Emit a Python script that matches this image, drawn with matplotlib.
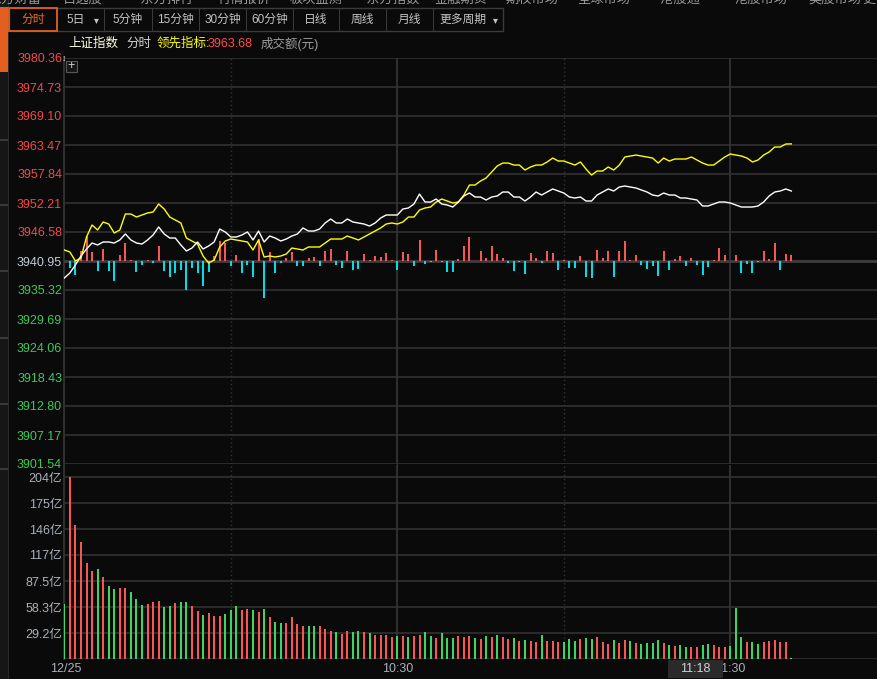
"""上证指数 intraday (分时) chart, dark trading-terminal style."""
import matplotlib
matplotlib.use("Agg")
import matplotlib.pyplot as plt
from matplotlib.patches import Rectangle

plt.rcParams["font.family"] = ["Liberation Sans", "Noto Sans CJK SC", "DejaVu Sans"]

# ---------------- data ----------------
prev_close = 3940.95
price_ticks = [3980.36, 3974.73, 3969.10, 3963.47, 3957.84, 3952.21, 3946.58, 3940.95,
               3935.32, 3929.69, 3924.06, 3918.43, 3912.80, 3907.17, 3901.54]
vol_ticks = [29.2, 58.3, 87.5, 117, 146, 175, 204]
vol_tick_labels = ["29.2亿", "58.3亿", "87.5亿", "117亿", "146亿", "175亿", "204亿"]
time_ticks = [0, 60, 120]
time_labels = ["12/25", "10:30", "11:30"]
cursor_label = "11:18"
lead_now = "3963.68"

# 上证指数 (white line), one point per minute from 9:30
index_price = [
    3937.65, 3938.62, 3940.17, 3941.92, 3943.28, 3944.44, 3944.06, 3944.64, 3944.64, 3944.44,
    3945.03, 3946.19, 3945.03, 3944.44, 3944.25, 3945.03, 3946.00, 3947.55, 3946.19, 3945.41,
    3945.41, 3944.06, 3942.89, 3943.47, 3944.64, 3943.28, 3943.86, 3944.64, 3947.16, 3946.58,
    3945.61, 3945.61, 3946.00, 3946.58, 3945.03, 3946.77, 3944.64, 3945.80, 3945.41, 3944.83,
    3945.22, 3945.80, 3946.19, 3947.36, 3946.77, 3946.77, 3947.16, 3948.33, 3949.10, 3948.33,
    3948.33, 3949.10, 3948.52, 3948.33, 3948.13, 3947.74, 3948.33, 3949.30, 3949.88, 3949.88,
    3949.88, 3951.04, 3951.24, 3952.01, 3953.95, 3952.40, 3952.40, 3952.98, 3952.01, 3951.82,
    3951.43, 3952.40, 3953.57, 3954.15, 3953.37, 3953.37, 3952.79, 3953.37, 3953.57, 3954.34,
    3954.34, 3953.37, 3953.37, 3952.60, 3953.37, 3954.34, 3953.76, 3954.34, 3954.93, 3954.54,
    3954.15, 3953.37, 3953.18, 3953.37, 3952.60, 3952.60, 3953.76, 3954.34, 3954.93, 3954.54,
    3955.31, 3955.51, 3955.31, 3955.12, 3954.73, 3954.34, 3953.76, 3953.57, 3954.15, 3953.76,
    3953.76, 3953.18, 3953.18, 3952.98, 3952.79, 3951.63, 3951.63, 3952.01, 3952.40, 3952.40,
    3952.21, 3951.82, 3951.43, 3951.43, 3951.43, 3951.63, 3952.40, 3953.57, 3954.34, 3954.54,
    3954.93, 3954.54]

# 领先指标 (yellow line)
lead_index = [
    3943.09, 3942.70, 3940.95, 3941.53, 3945.61, 3947.94, 3946.97, 3948.52, 3948.13, 3946.39,
    3946.97, 3950.07, 3950.07, 3949.49, 3949.88, 3950.27, 3950.46, 3952.01, 3951.04, 3949.49,
    3948.91, 3948.33, 3945.41, 3944.83, 3944.25, 3941.92, 3940.56, 3941.14, 3943.67, 3944.83,
    3945.22, 3945.03, 3944.83, 3944.64, 3943.09, 3945.03, 3941.73, 3941.92, 3941.73, 3941.92,
    3942.31, 3943.47, 3943.28, 3943.09, 3943.67, 3943.67, 3943.67, 3944.44, 3945.22, 3945.22,
    3945.22, 3945.80, 3945.41, 3945.03, 3945.61, 3946.19, 3946.77, 3947.36, 3948.13, 3948.33,
    3948.13, 3948.52, 3949.49, 3949.49, 3950.85, 3951.24, 3951.43, 3952.40, 3952.98, 3952.60,
    3952.21, 3952.40, 3953.76, 3955.70, 3955.70, 3956.48, 3957.06, 3958.22, 3959.39, 3959.97,
    3959.97, 3959.58, 3959.58, 3958.61, 3959.20, 3959.58, 3959.58, 3960.17, 3960.94, 3960.36,
    3960.36, 3959.97, 3959.58, 3960.17, 3958.81, 3957.64, 3958.42, 3958.42, 3959.20, 3958.61,
    3959.58, 3961.14, 3961.33, 3961.52, 3961.33, 3961.14, 3960.94, 3959.97, 3960.94, 3960.36,
    3960.75, 3960.75, 3960.75, 3961.14, 3960.56, 3959.97, 3959.58, 3959.58, 3960.36, 3961.14,
    3961.72, 3961.52, 3961.33, 3960.94, 3960.17, 3960.56, 3961.52, 3962.11, 3963.08, 3963.08,
    3963.66, 3963.68]

# buy/sell strength bars around the previous close (red up / cyan down)
strength = [
    0, -6.7, -14, 10.3, 25, 8.7, -9.7, 12, -9.7, -19.7,
    6, 18.3, 1, -10.7, -4, 1, -1.7, 15, -9.7, -15.7,
    -12.3, -9, -29, -7.3, -12.3, -25, -10.7, 5, 20, 17.7,
    -5, 6, -11.7, -4, -16.3, 22, -36.7, 9.3, -11.7, -2,
    3.5, 9.3, -5, -5, 3.3, 4.3, -5, 10.3, 12.3, -4,
    -6.7, 10.3, -9, -8, 7, 0.7, 5.3, 4.3, 8.3, 0.7,
    -9, 9, 7.3, -5, 21, -3, -1, 11, -1, -10.7,
    -10.7, 1.7, 15, 24, 0, 10, 3.3, 15, 7, 3.3,
    -2.3, -9.7, -1, -13, 8.3, 3.3, -2, 10.3, 8.3, -9,
    1, -6.7, -6.7, 5.3, -15.7, -17.3, 11, 3.3, 10.3, -15.7,
    10, 20, 1, 6, -4, -8, -4.7, -15, 10, -9,
    2, 5, -5, 3.3, -4, -14, -5.7, 0.7, 13.3, 6,
    0, 6, -11.7, -3, -11.7, -1, 10, 2, 17.7, -9,
    7, 6]

# 成交额 per minute, 亿元
turnover = [
    62.0, 204, 150.6, 131.9, 108.3, 99.4, 101.6, 92.7, 82.2, 79.2,
    80.3, 80.3, 75.5, 68.0, 61.3, 62.4, 64.6, 65.8, 59.0, 60.1,
    63.5, 64.3, 64.3, 60.1, 54.2, 50.1, 51.9, 48.9, 48.9, 51.2,
    55.7, 60.1, 55.7, 56.8, 55.7, 53.4, 56.8, 47.8, 41.8, 40.7,
    40.7, 47.8, 40.0, 37.4, 37.4, 37.4, 37.4, 34.0, 31.4, 30.6,
    28.8, 31.4, 30.6, 31.4, 30.6, 29.5, 27.3, 27.3, 27.3, 25.0,
    26.2, 26.2, 25.0, 26.2, 27.3, 30.6, 26.2, 23.9, 29.5, 23.9,
    23.9, 26.2, 25.0, 26.2, 23.9, 22.8, 26.2, 25.0, 27.3, 25.0,
    22.8, 23.9, 20.5, 21.7, 20.5, 19.4, 27.3, 20.5, 20.5, 19.4,
    19.4, 22.8, 20.5, 22.8, 23.9, 22.8, 25.0, 19.4, 17.2, 21.7,
    18.3, 21.7, 20.5, 18.3, 17.2, 18.3, 18.3, 21.7, 18.3, 16.1,
    14.9, 16.1, 13.8, 13.8, 13.8, 16.1, 17.2, 16.1, 13.8, 13.8,
    14.9, 57.5, 25.0, 19.4, 19.4, 17.2, 19.4, 20.5, 21.7, 19.4,
    19.4, 1.1]
# r = up minute (red bar), g = down minute (green bar)
turnover_dir = ("grrrrrgrgg" "rrgggrrrgg" "rggrrgrrrg" "ggrrgrgrgg"
                "rrrrggrrrg" "rrggrgrrrr" "grgrrggrgg" "grrrgrgrgr"
                "rgrgrrgrrr" "gggrggrrrg" "rrgrggggrg" "rggrrggrrr"
                "gggrggrrrr" "rg")
minutes = list(range(len(index_price)))

# ---------------- style / layout ----------------
W, H = 877, 679
BG = "#0a0a0a"
GRID = "#2e2e2e"
RED, GREEN, CYAN = "#ff5858", "#3ddc64", "#00e4f0"
AX_RED, AX_GREEN, AX_GRAY = "#f04a4a", "#3cc95a", "#a9b1bb"
X0, X1 = 64.3, 877          # plot area in pixels
PX_PER_MIN = 5.55
STRENGTH_SCALE = 0.194      # price units per strength unit


def fx(x):
    return x / W


def fy(y):
    return 1 - y / H


def ftext(x, y, s, **kw):
    kw.setdefault("va", "center")
    fig.text(fx(x), fy(y), s, **kw)


def frect(x0, y0, x1, y1, **kw):
    fig.add_artist(Rectangle((fx(x0), fy(y1)), fx(x1) - fx(x0), fy(y0) - fy(y1),
                             transform=fig.transFigure, **kw))


fig = plt.figure(figsize=(W / 100, H / 100), dpi=100, facecolor=BG)

# left side strip
frect(0, 0, 8, H, fc="#161616", ec="none")
frect(0, 7, 8, 72, fc="#e35f1f", ec="none")
for yy in [139, 204, 270, 337, 403, 468]:
    frect(0, yy, 8, yy + 1.5, fc="#3a3a3a", ec="none")
frect(8, 0, 9, H, fc="#2a2a2a", ec="none")

# menu row, cut off by the top edge of the screenshot
for x, s in [(-12, "东方财富"), (63, "自选股"), (132, "• 东方排行"), (218, "行情报价"),
             (290, "板块监测"), (358, "• 东方指数"), (435, "金融期货"), (505, "期权市场"),
             (578, "全球市场"), (652, "• 港股通"), (735, "港股市场"), (808, "美股市场"),
             (862, "更")]:
    fig.text(fx(x), fy(6), s, fontsize=9.5, color="#9a9a9a", va="bottom", ha="left")

# period tabs
tabs = ["分时", "5日", "5分钟", "15分钟", "30分钟", "60分钟", "日线", "周线", "月线", "更多周期"]
edges = [9, 57, 104, 152, 199, 246, 293, 339, 386, 433, 503]
frect(edges[0], 8, edges[-1], 31, fc="none", ec="#3a3a3a", lw=1)
for k, name in enumerate(tabs):
    a, b = edges[k], edges[k + 1]
    if k > 0:
        frect(a, 8, a + 1, 31, fc="#3a3a3a", ec="none")
    if name in ("5日", "更多周期"):
        ftext((a + b) / 2 - 5, 20, name, ha="center", fontsize=8.5, color="#c4c4c4")
        ftext(b - 8, 20, "▾", ha="center", fontsize=7, color="#c4c4c4")
    else:
        ftext((a + b) / 2, 20, name, ha="center", fontsize=8.5,
              color="#f26b2a" if k == 0 else "#c4c4c4")
frect(edges[0], 8, edges[1], 31, fc="none", ec="#e35f1f", lw=1.3)

# title row
ftext(68, 44, "上证指数", fontsize=9, color="#fdfbe0")
ftext(126, 44, "分时", fontsize=9, color="#d2d2d2")
ftext(157, 44, "领先指标:", fontsize=9, color="#ffff00")
ftext(208, 44, lead_now, fontsize=9, color="#ff4d4d")
ftext(261, 44, "成交额(元)", fontsize=9, color="#9c9c9c")

# ---------------- price panel ----------------
xmax = (X1 - X0) / PX_PER_MIN
ax = fig.add_axes([fx(X0), fy(464), fx(X1) - fx(X0), (464 - 58) / H])
ax.set_facecolor(BG)
ax.set_xlim(0, xmax)
ax.set_ylim(price_ticks[-1], price_ticks[0])
for s in ax.spines.values():
    s.set_visible(False)
for t in price_ticks:
    if t != prev_close:
        ax.axhline(t, color=GRID, lw=1.3, zorder=0)
ax.axhline(prev_close, color="#3e3e3e", lw=2.0, zorder=1)
ax.set_xticks([])
ax.set_yticks(price_ticks)
ax.set_yticklabels([f"{t:.2f}" for t in price_ticks])
ax.tick_params(axis="y", length=0, pad=1.6, labelsize=9)
for lab, t in zip(ax.get_yticklabels(), price_ticks):
    lab.set_color(AX_RED if t > prev_close else (AX_GREEN if t < prev_close else "#c3ccd6"))

# strength bars
tops = [prev_close + v * STRENGTH_SCALE for v in strength]
ax.vlines(minutes, prev_close, tops, colors=[RED if v > 0 else CYAN for v in strength],
          lw=1.4, zorder=2)
ax.plot(minutes, index_price, color="white", lw=1.0, zorder=4)
ax.plot(minutes, lead_index, color="#ffff00", lw=1.0, zorder=3)

# ---------------- turnover panel ----------------
vtop = vol_ticks[-1] * (659.3 - 465) / (659.3 - 477.3)
vax = fig.add_axes([fx(X0), fy(659.3), fx(X1) - fx(X0), (659.3 - 465) / H])
vax.set_facecolor(BG)
vax.set_xlim(0, xmax)
vax.set_ylim(0, vtop)
for s in vax.spines.values():
    s.set_visible(False)
for t in [0] + vol_ticks:
    vax.axhline(t, color=GRID, lw=1.3, zorder=0)
vax.set_xticks([])
vax.set_yticks(vol_ticks)
vax.set_yticklabels(vol_tick_labels)
vax.tick_params(axis="y", length=0, pad=1.6, labelsize=9, labelcolor=AX_GRAY)
vax.vlines(minutes, 0, turnover, colors=[RED if c == "r" else GREEN for c in turnover_dir],
           lw=1.4, zorder=2)

# vertical time lines
for a in (ax, vax):
    a.axvline(0, color="#333333", lw=1.3, zorder=0, clip_on=False)
    for m in (60, 120):
        a.axvline(m, color="#333333", lw=1.3, zorder=0)
    for m in (30, 90):
        a.axvline(m, color="#333333", lw=1.0, ls=(0, (1, 2)), zorder=0)
frect(X0 + 60 * PX_PER_MIN - 0.6, 464, X0 + 60 * PX_PER_MIN + 0.6, 466, fc="#333333", ec="none")

# "+" button and scale icon at the top-left of the plot
frect(66, 61, 77, 72, fc="#161616", ec="#5a5a5a", lw=0.8)
ftext(71.5, 66.3, "+", ha="center", fontsize=9, color="#d8d8d8")
ftext(64.5, 58, "↕", ha="center", fontsize=6.5, color="#e0e0e0")

# time axis labels, with the crosshair time box drawn over 11:30
for m, s in zip(time_ticks, time_labels):
    ftext(X0 + m * PX_PER_MIN + (1 if m == 0 else 0), 669, s, ha="center", fontsize=9,
          color=AX_GRAY)
frect(668, 660, 723, 678, fc="#2a2a2a", ec="none", zorder=5)
ftext(695.5, 669, cursor_label, ha="center", fontsize=9, color="#d0d4d8", zorder=6)

fig.savefig("out.png", dpi=100, facecolor=BG)
